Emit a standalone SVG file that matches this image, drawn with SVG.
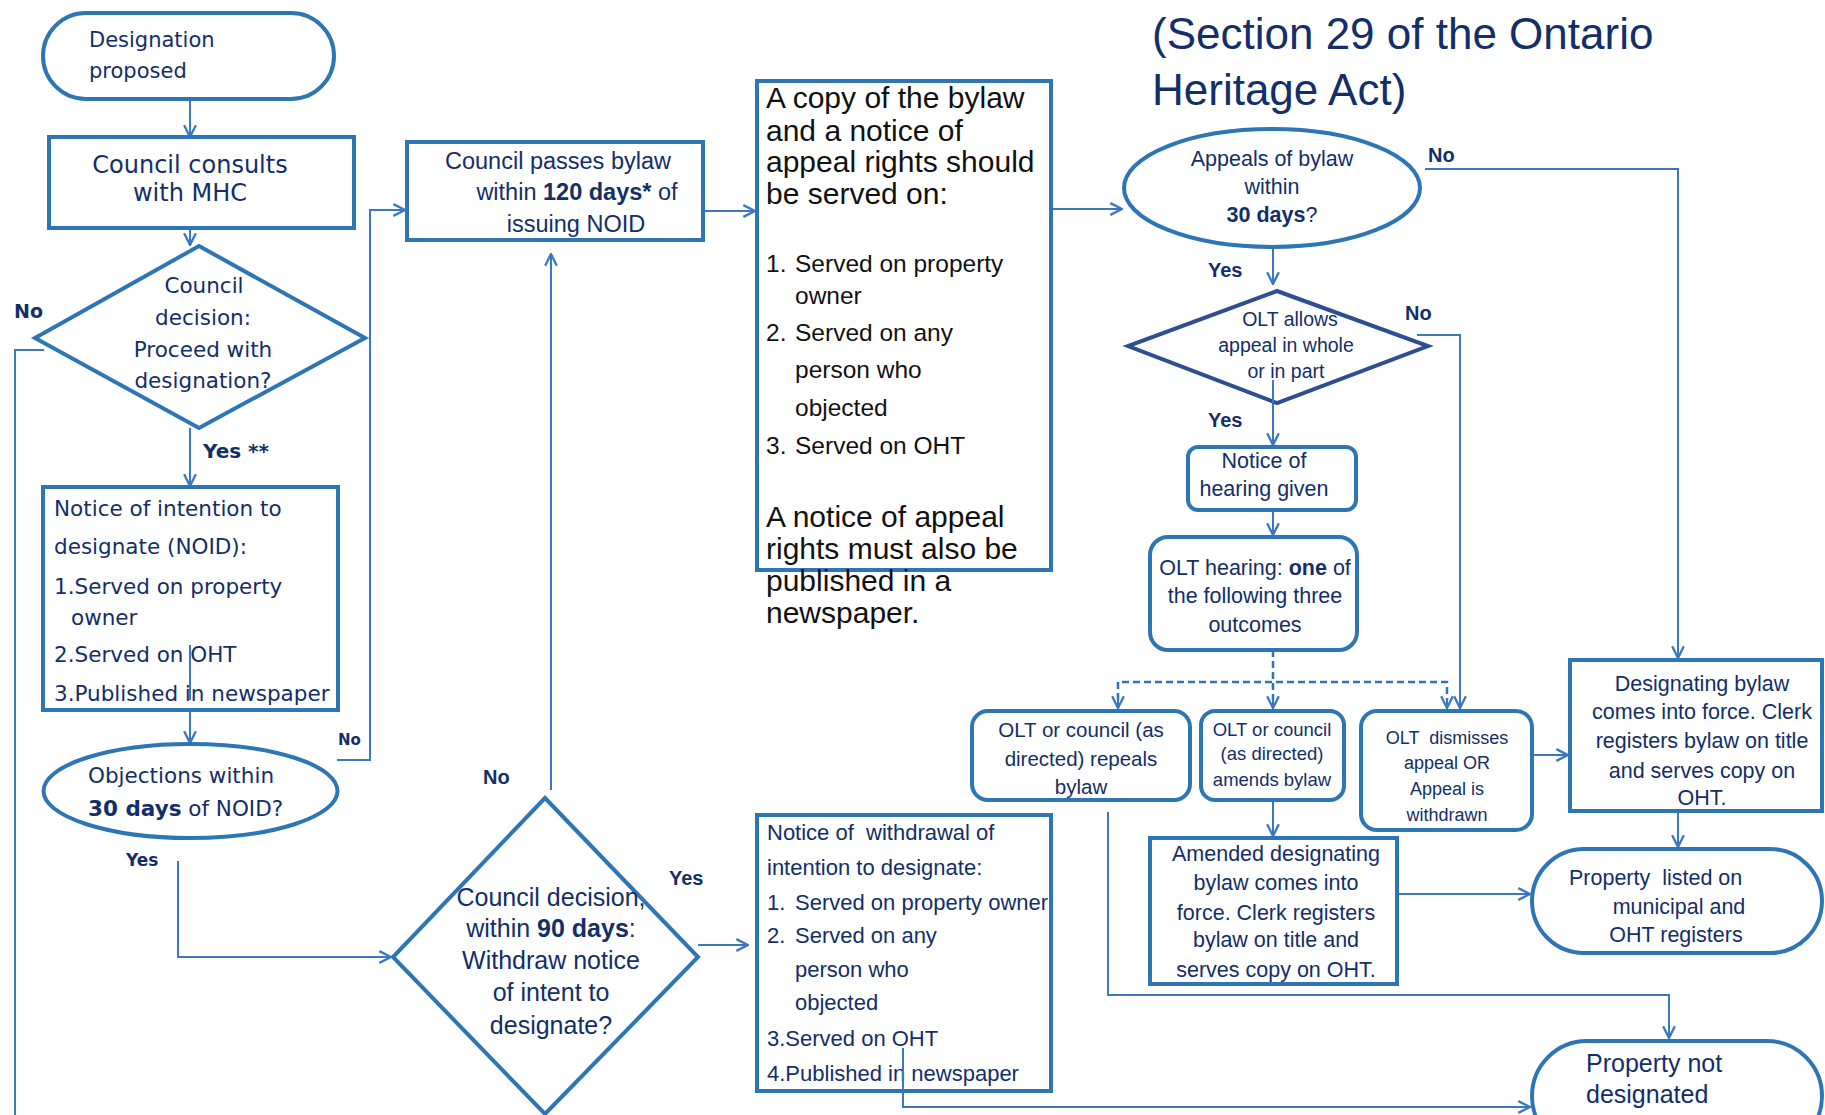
<svg xmlns="http://www.w3.org/2000/svg" width="1825" height="1115" viewBox="0 0 1825 1115">
<defs>
<marker id="arr" markerUnits="userSpaceOnUse" markerWidth="14" markerHeight="14" viewBox="0 0 12 12" refX="11" refY="6" orient="auto">
<path d="M1,1 L11,6 L1,11" fill="none" stroke="#3A78C2" stroke-width="2"/>
</marker>
<style>
.n{fill:#fff;stroke:#2E75B6;stroke-width:4}
.nd{fill:#fff;stroke:#2F4E92;stroke-width:4}
.c{fill:none;stroke:#3A78C2;stroke-width:2;marker-end:url(#arr)}
.cn{fill:none;stroke:#3A78C2;stroke-width:2}
.d{fill:none;stroke:#2E75B6;stroke-width:2.5;stroke-dasharray:7,4}
.v{font-family:"DejaVu Sans",Verdana,sans-serif;fill:#132E68}
.l{font-family:"Liberation Sans",Arial,sans-serif;fill:#132E68}
.k{font-family:"Liberation Sans",Arial,sans-serif;fill:#111}
.m{text-anchor:middle}
.b{font-weight:bold}
.p{white-space:pre}
.lab{font-family:"Liberation Sans",Arial,sans-serif;font-weight:bold;fill:#132E68;font-size:20px}
.vlab{font-family:"DejaVu Sans",Verdana,sans-serif;font-weight:bold;fill:#132E68}
</style>
</defs>
<rect width="1825" height="1115" fill="#fff"/>

<g id="title">
<text class="l" x="1152" y="49" font-size="44">(Section 29 of the Ontario</text>
<text class="l" x="1152" y="105" font-size="44">Heritage Act)</text>
</g>

<g id="connectors">
<path class="c" d="M190,99 V137"/>
<path class="c" d="M190,207 V245"/>
<path class="cn" d="M44,350 H15 V1115"/>
<path class="c" d="M190,428 V486"/>
<path class="c" d="M190,645 V743"/>
<path class="c" d="M337,760 H370 V210 H405"/>
<path class="c" d="M178,861 V957 H391"/>
<path class="c" d="M551,790 V254"/>
<path class="c" d="M698,945 H748"/>
<path class="c" d="M703,211 H755"/>
<path class="c" d="M1051,209 H1122"/>
<path class="c" d="M1425,169 H1678 V658"/>
<path class="c" d="M1273,247 V284"/>
<path class="c" d="M1417,335 H1460 V708"/>
<path class="c" d="M1273,380 V445"/>
<path class="c" d="M1273,510 V535"/>
<path class="d" d="M1273,650 V700"/>
<path class="d" d="M1118,700 V682 H1447 V700"/>
<path class="c" d="M1118,698 V708"/>
<path class="c" d="M1273,698 V708"/>
<path class="c" d="M1447,698 V708"/>
<path class="c" d="M1273,800 V836"/>
<path class="c" d="M1532,755 H1568"/>
<path class="c" d="M1678,811 V847"/>
<path class="c" d="M1397,894 H1530"/>
<path class="c" d="M1108,812 V995 H1669 V1038"/>
<path class="c" d="M903,1048 V1107 H1530"/>
</g>

<g id="labels">
<text class="vlab" x="14" y="318" font-size="19">No</text>
<text class="vlab" x="203" y="458" font-size="20">Yes **</text>
<text class="vlab" x="338" y="745" font-size="15">No</text>
<text class="vlab" x="126" y="866" font-size="17">Yes</text>
<text class="lab" x="483" y="784" font-size="23">No</text>
<text class="lab" x="669" y="885" font-size="23">Yes</text>
<text class="lab" x="1428" y="162">No</text>
<text class="lab" x="1208" y="277">Yes</text>
<text class="lab" x="1405" y="320">No</text>
<text class="lab" x="1208" y="427">Yes</text>
</g>

<g id="designation-proposed">
<rect class="n" x="43" y="13" width="291" height="86" rx="43"/>
<text class="v" x="89" y="47" font-size="21">Designation</text>
<text class="v" x="89" y="78" font-size="21">proposed</text>
</g>

<g id="council-consults">
<rect class="n" x="49" y="137" width="305" height="91"/>
<text class="v m" x="190" y="173" font-size="24">Council consults</text>
<text class="v m" x="190" y="201" font-size="24">with MHC</text>
</g>

<g id="council-decision">
<polygon class="n" points="199,246 365,338 199,428 35,338"/>
<text class="v m" x="204" y="293" font-size="21.5">Council</text>
<text class="v m" x="203" y="325" font-size="21.5">decision:</text>
<text class="v m" x="203" y="357" font-size="21.5">Proceed with</text>
<text class="v m" x="203" y="388" font-size="21.5">designation?</text>
</g>

<g id="noid">
<rect class="n" x="43" y="487" width="295" height="223"/>
<text class="v" x="54" y="516" font-size="21.5">Notice of intention to</text>
<text class="v" x="54" y="554" font-size="21.5">designate (NOID):</text>
<text class="v" x="54" y="594" font-size="21.5">1.Served on property</text>
<text class="v" x="71" y="625" font-size="21.5">owner</text>
<text class="v" x="54" y="662" font-size="21.5">2.Served on OHT</text>
<text class="v" x="54" y="701" font-size="21.5">3.Published in newspaper</text>
</g>
<path class="cn" d="M190,645 V700"/>

<g id="objections">
<ellipse class="n" cx="190.5" cy="791" rx="147" ry="47"/>
<text class="v" x="88" y="783" font-size="21.5">Objections within</text>
<text class="v" x="88" y="816" font-size="21.5"><tspan font-weight="bold">30 days</tspan> of NOID?</text>
</g>

<g id="council-passes">
<rect class="n" x="407" y="142" width="296" height="98"/>
<text class="l m" x="558" y="169" font-size="23.5">Council passes bylaw</text>
<text class="l m" x="577" y="200" font-size="23.5">within <tspan font-weight="bold">120 days*</tspan> of</text>
<text class="l m" x="576" y="232" font-size="23.5">issuing NOID</text>
</g>

<g id="copy-served">
<rect class="n" x="757" y="81" width="294" height="489"/>
<text class="k" x="766" y="108" font-size="30">A copy of the bylaw</text>
<text class="k" x="766" y="141" font-size="30">and a notice of</text>
<text class="k" x="766" y="172" font-size="30">appeal rights should</text>
<text class="k" x="766" y="204" font-size="30">be served on:</text>
<text class="k" x="766" y="272" font-size="24.5">1.</text>
<text class="k" x="795" y="272" font-size="24.5">Served on property</text>
<text class="k" x="795" y="304" font-size="24.5">owner</text>
<text class="k" x="766" y="341" font-size="24.5">2.</text>
<text class="k" x="795" y="341" font-size="24.5">Served on any</text>
<text class="k" x="795" y="378" font-size="24.5">person who</text>
<text class="k" x="795" y="416" font-size="24.5">objected</text>
<text class="k" x="766" y="454" font-size="24.5">3.</text>
<text class="k" x="795" y="454" font-size="24.5">Served on OHT</text>
<text class="k" x="766" y="527" font-size="30">A notice of appeal</text>
<text class="k" x="766" y="559" font-size="30">rights must also be</text>
<text class="k" x="766" y="591" font-size="30">published in a</text>
<text class="k" x="766" y="623" font-size="30">newspaper.</text>
</g>

<g id="council-decision-90">
<polygon class="n" points="545,798 698,957 545,1114 393,957"/>
<text class="l m" x="551" y="906" font-size="25">Council decision,</text>
<text class="l m" x="551" y="937" font-size="25">within <tspan font-weight="bold">90 days</tspan>:</text>
<text class="l m" x="551" y="969" font-size="25">Withdraw notice</text>
<text class="l m" x="551" y="1001" font-size="25">of intent to</text>
<text class="l m" x="551" y="1034" font-size="25">designate?</text>
</g>

<g id="withdrawal">
<rect class="n" x="757" y="815" width="294" height="276"/>
<text class="l p" x="767" y="840" font-size="22" xml:space="preserve">Notice of  withdrawal of</text>
<text class="l" x="767" y="875" font-size="22">intention to designate:</text>
<text class="l" x="767" y="910" font-size="22">1.</text>
<text class="l" x="795" y="910" font-size="22">Served on property owner</text>
<text class="l" x="767" y="943" font-size="22">2.</text>
<text class="l" x="795" y="943" font-size="22">Served on any</text>
<text class="l" x="795" y="977" font-size="22">person who</text>
<text class="l" x="795" y="1010" font-size="22">objected</text>
<text class="l" x="767" y="1046" font-size="22">3.Served on OHT</text>
<text class="l" x="767" y="1081" font-size="22">4.Published in newspaper</text>
</g>
<path class="cn" d="M903,1048 V1092"/>

<g id="appeals">
<ellipse class="n" cx="1272" cy="188" rx="148" ry="59"/>
<text class="l m" x="1272" y="166" font-size="21.5">Appeals of bylaw</text>
<text class="l m" x="1272" y="194" font-size="21.5">within</text>
<text class="l m" x="1272" y="222" font-size="21.5"><tspan font-weight="bold">30 days</tspan>?</text>
</g>

<g id="olt-allows">
<polygon class="nd" points="1277,291 1428,346 1277,403 1128,346"/>
<text class="l m" x="1290" y="326" font-size="19.5">OLT allows</text>
<text class="l m" x="1286" y="352" font-size="19.5">appeal in whole</text>
<text class="l m" x="1286" y="378" font-size="19.5">or in part</text>
</g>
<path class="cn" d="M1273,380 V403"/>

<g id="notice-hearing">
<rect class="n" x="1188" y="447" width="168" height="63" rx="10"/>
<text class="l m" x="1264" y="468" font-size="21.5">Notice of</text>
<text class="l m" x="1264" y="496" font-size="21.5">hearing given</text>
</g>

<g id="olt-hearing">
<rect class="n" x="1150" y="537" width="207" height="113" rx="18"/>
<text class="l m" x="1255" y="575" font-size="21.5">OLT hearing: <tspan font-weight="bold">one</tspan> of</text>
<text class="l m" x="1255" y="603" font-size="21.5">the following three</text>
<text class="l m" x="1255" y="632" font-size="21.5">outcomes</text>
</g>

<g id="repeals">
<rect class="n" x="972" y="711" width="218" height="89" rx="16"/>
<text class="l m" x="1081" y="737" font-size="20.5">OLT or council (as</text>
<text class="l m" x="1081" y="766" font-size="20.5">directed) repeals</text>
<text class="l m" x="1081" y="794" font-size="20.5">bylaw</text>
</g>

<g id="amends">
<rect class="n" x="1201" y="711" width="143" height="89" rx="14"/>
<text class="l m" x="1272" y="736" font-size="18.5">OLT or council</text>
<text class="l m" x="1272" y="760" font-size="18.5">(as directed)</text>
<text class="l m" x="1272" y="786" font-size="18.5">amends bylaw</text>
</g>

<g id="dismisses">
<rect class="n" x="1361" y="711" width="171" height="119" rx="16"/>
<text class="l m p" x="1447" y="744" font-size="18" xml:space="preserve">OLT  dismisses</text>
<text class="l m" x="1447" y="769" font-size="18">appeal OR</text>
<text class="l m" x="1447" y="795" font-size="18">Appeal is</text>
<text class="l m" x="1447" y="821" font-size="18">withdrawn</text>
</g>

<g id="designating">
<rect class="n" x="1570" y="660" width="252" height="151"/>
<text class="l m" x="1702" y="691" font-size="21.5">Designating bylaw</text>
<text class="l m" x="1702" y="719" font-size="21.5">comes into force. Clerk</text>
<text class="l m" x="1702" y="748" font-size="21.5">registers bylaw on title</text>
<text class="l m" x="1702" y="778" font-size="21.5">and serves copy on</text>
<text class="l m" x="1702" y="805" font-size="21.5">OHT.</text>
</g>

<g id="amended">
<rect class="n" x="1150" y="838" width="247" height="146"/>
<text class="l m" x="1276" y="861" font-size="21.5">Amended designating</text>
<text class="l m" x="1276" y="890" font-size="21.5">bylaw comes into</text>
<text class="l m" x="1276" y="920" font-size="21.5">force. Clerk registers</text>
<text class="l m" x="1276" y="947" font-size="21.5">bylaw on title and</text>
<text class="l m" x="1276" y="977" font-size="21.5">serves copy on OHT.</text>
</g>

<g id="property-listed">
<rect class="n" x="1532" y="849" width="290" height="104" rx="52"/>
<text class="l p" x="1569" y="885" font-size="21.5" xml:space="preserve">Property  listed on</text>
<text class="l m" x="1679" y="914" font-size="21.5">municipal and</text>
<text class="l m" x="1676" y="942" font-size="21.5">OHT registers</text>
</g>

<g id="property-not">
<rect class="n" x="1532" y="1041" width="290" height="110" rx="55"/>
<text class="l" x="1586" y="1072" font-size="25">Property not</text>
<text class="l" x="1586" y="1103" font-size="25">designated</text>
</g>
</svg>
